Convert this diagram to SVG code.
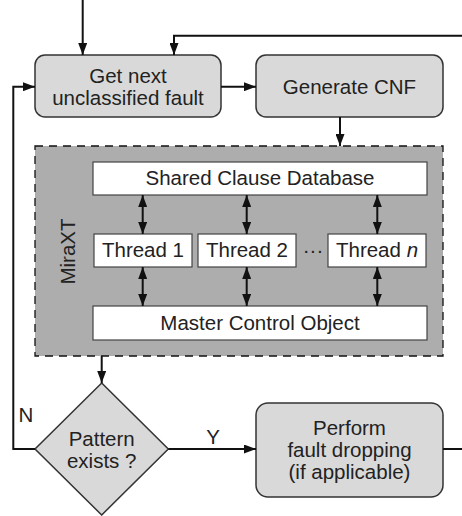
<svg xmlns="http://www.w3.org/2000/svg" width="462" height="516" viewBox="0 0 462 516">
<defs>
<marker id="ah" viewBox="0 0 12 9" refX="12" refY="4.5" markerWidth="12" markerHeight="9" markerUnits="userSpaceOnUse" orient="auto-start-reverse">
<path d="M0,0 L12,4.5 L0,9 Z" fill="#111"/>
</marker>
<style>
text{font-family:"Liberation Sans",Arial,sans-serif;font-size:20.5px;fill:#222;text-anchor:middle}
.proc{fill:#d9d9d9;stroke:#333;stroke-width:1.5}
.wbox{fill:#fff;stroke:#444;stroke-width:1.2}
.ln{fill:none;stroke:#111;stroke-width:2}
.arr{fill:none;stroke:#111;stroke-width:2;marker-end:url(#ah)}
.bi{fill:none;stroke:#111;stroke-width:2;marker-end:url(#ah);marker-start:url(#ah)}
</style>
</defs>
<g id="mira">
<rect x="35" y="146" width="408" height="210" fill="#adadad" stroke="#111" stroke-width="1.3" stroke-dasharray="8,6"/>
<text transform="translate(75,251.5) rotate(-90)">MiraXT</text>
</g>
<g id="getnext">
<rect class="proc" x="35" y="55" width="186" height="62" rx="10"/>
<text x="128" y="83">Get next</text>
<text x="128" y="105">unclassified fault</text>
</g>
<g id="gencnf">
<rect class="proc" x="256" y="55" width="187" height="62" rx="10"/>
<text x="349.5" y="94">Generate CNF</text>
</g>
<g id="shared">
<rect class="wbox" x="93" y="162" width="334" height="33"/>
<text x="260" y="185">Shared Clause Database</text>
</g>
<g id="thread1">
<rect class="wbox" x="94" y="234" width="98" height="33"/>
<text x="143" y="257">Thread 1</text>
</g>
<g id="thread2">
<rect class="wbox" x="198" y="234" width="98" height="33"/>
<text x="247" y="257">Thread 2</text>
</g>
<g id="dots">
<text x="313" y="257">···</text>
</g>
<g id="threadn">
<rect class="wbox" x="328" y="234" width="98" height="33"/>
<text x="377" y="257">Thread <tspan font-style="italic">n</tspan></text>
</g>
<g id="master">
<rect class="wbox" x="93" y="306" width="334" height="34"/>
<text x="260" y="330">Master Control Object</text>
</g>
<g id="pattern">
<path class="proc" d="M101.7,383 L168.3,449 L101.7,515 L35,449 Z"/>
<text x="101.7" y="446">Pattern</text>
<text x="101.7" y="468">exists ?</text>
</g>
<g id="perform">
<rect class="proc" x="256" y="403" width="187" height="94" rx="12"/>
<text x="349.5" y="435">Perform</text>
<text x="349.5" y="457">fault dropping</text>
<text x="349.5" y="479">(if applicable)</text>
</g>
<g id="connectors">
<path class="arr" d="M82.7,0 V55"/>
<path class="arr" d="M462,35.7 H174 V55"/>
<path class="arr" d="M221,86.7 H256"/>
<path class="arr" d="M340,117 V146"/>
<path class="bi" d="M142.7,195 V234"/>
<path class="bi" d="M246.7,195 V234"/>
<path class="bi" d="M377.3,195 V234"/>
<path class="bi" d="M142.7,267 V306"/>
<path class="bi" d="M246.7,267 V306"/>
<path class="bi" d="M377.3,267 V306"/>
<path class="arr" d="M101.7,356 V383"/>
<path class="arr" d="M35,449 H13.3 V86.7 H35"/>
<path class="arr" d="M168.3,449 H256"/>
<path class="ln" d="M443,449 H462"/>
<text x="26" y="421.5">N</text>
<text x="213" y="444">Y</text>
</g>
</svg>
